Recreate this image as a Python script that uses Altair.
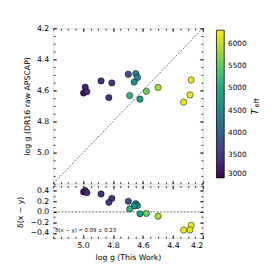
import altair as alt
import pandas as pd

# ---- data ----
logg_this = [4.997, 4.986, 4.975, 4.880, 4.808, 4.828, 4.698, 4.648, 4.637, 4.659,
             4.689, 4.620, 4.577, 4.499, 4.278, 4.286, 4.328]
logg_dr16 = [4.617, 4.579, 4.608, 4.539, 4.552, 4.646, 4.496, 4.492, 4.517, 4.546,
             4.633, 4.656, 4.606, 4.581, 4.533, 4.629, 4.675]
teff = [3100, 3250, 3350, 3450, 3500, 3500, 3850, 4450, 4500, 4600,
        5200, 4850, 5550, 5850, 6250, 6200, 6200]

diag_vals = [4.2, 5.2]
zero_line = [0.0]
annot = ["δ(x − y) = 0.09 ± 0.23"]
cbar_title = ["T", "eff"]

x_major = [5.0, 4.8, 4.6, 4.4, 4.2]
x_minor = [5.2, 5.15, 5.1, 5.05, 5.0, 4.95, 4.9, 4.85, 4.8, 4.75, 4.7, 4.65, 4.6,
           4.55, 4.5, 4.45, 4.4, 4.35, 4.3, 4.25, 4.2]
y_major = [4.2, 4.4, 4.6, 4.8, 5.0]
y_minor = x_minor
d_major = [0.4, 0.2, 0.0, -0.2, -0.4]
d_minor = [0.5, 0.4, 0.3, 0.2, 0.1, 0.0, -0.1, -0.2, -0.3, -0.4, -0.5]
cbar_ticks = [3000, 3500, 4000, 4500, 5000, 5500, 6000]

W, H1, H2 = 154, 160, 54
FONT = "DejaVu Sans"

df = pd.DataFrame({"this": logg_this, "dr16": logg_dr16, "teff": teff})
diag_df = pd.DataFrame({"a": diag_vals, "b": diag_vals})
zero_df = pd.DataFrame({"z": zero_line})
annot_df = pd.DataFrame({"t": annot})
T_df = pd.DataFrame({"t": cbar_title[:1]})
eff_df = pd.DataFrame({"t": cbar_title[1:]})

xscale = alt.Scale(domain=[4.2, 5.2], reverse=True, nice=False, zero=False)
yscale = alt.Scale(domain=[4.2, 5.2], reverse=True, nice=False, zero=False)
dscale = alt.Scale(domain=[-0.5, 0.5], nice=False, zero=False)
cscale = alt.Scale(domain=[3000, 6300], scheme="viridis")


def inward(orient, values, size, labels=False, title=None, fmt=".1f"):
    kw = dict(orient=orient, values=values, tickSize=size, offset=-size,
              domain=False, grid=False, labels=labels, tickColor="black",
              tickWidth=0.8, title=title)
    if labels:
        kw.update(format=fmt, labelFontSize=8, labelFont=FONT,
                  labelPadding=4.5 if orient == "left" else 4,
                  labelColor="black")
    if title:
        kw.update(titleFontSize=8, titleFont=FONT, titleFontWeight="normal",
                  titleColor="black",
                  titlePadding=5.5 if orient == "left" else 4)
    return alt.Axis(**kw)


def axis_layers(data, xf, yf, ys, ymaj, ymin, show_xlabels, ytitle, xtitle):
    layers = []
    specs = [
        (inward("bottom", x_major, 3.5, show_xlabels, xtitle),
         inward("left", ymaj, 3.5, True, ytitle)),
        (inward("top", x_major, 3.5), inward("right", ymaj, 3.5)),
        (inward("bottom", x_minor, 2), inward("left", ymin, 2)),
        (inward("top", x_minor, 2), inward("right", ymin, 2)),
    ]
    for xa, ya in specs:
        layers.append(
            alt.Chart(data).mark_point(opacity=0).encode(
                x=alt.X(xf, type="quantitative", scale=xscale, axis=xa),
                y=alt.Y(yf, type="quantitative", scale=ys, axis=ya),
            )
        )
    return layers


legend = alt.Legend(
    orient="none", legendX=W + 14, legendY=2, title=None,
    gradientLength=152, gradientThickness=8, values=cbar_ticks, format="d",
    labelFontSize=7.5, labelFont=FONT, labelColor="black", labelOverlap=False,
    gradientStrokeColor="black", gradientStrokeWidth=0.8, direction="vertical",
    labelOffset=4, padding=0,
)

pts_main = alt.Chart(df).mark_circle(size=42, stroke="black", strokeWidth=0.5, opacity=1).encode(
    x=alt.X("this:Q", scale=xscale, axis=None),
    y=alt.Y("dr16:Q", scale=yscale, axis=None),
    color=alt.Color("teff:Q", scale=cscale, legend=legend),
)
diag = alt.Chart(diag_df).mark_line(color="black", strokeWidth=0.6, strokeDash=[2, 1.5], clip=True).encode(
    x=alt.X("a:Q", scale=xscale, axis=None),
    y=alt.Y("b:Q", scale=yscale, axis=None),
)
t_text = alt.Chart(T_df).mark_text(angle=270, fontSize=9.5, fontStyle="italic", font=FONT,
                                   align="center", baseline="middle").encode(
    x=alt.value(W + 54), y=alt.value(86), text="t:N")
eff_text = alt.Chart(eff_df).mark_text(angle=270, fontSize=7, font=FONT,
                                       align="center", baseline="middle").encode(
    x=alt.value(W + 56), y=alt.value(77), text="t:N")

main = alt.layer(
    *axis_layers(df, "this", "dr16", yscale, y_major, y_minor, False,
                 "log g (DR16 raw APSCAP)", None),
    diag, pts_main, t_text, eff_text,
).resolve_axis(x="independent", y="independent").properties(width=W, height=H1)

pts_low = alt.Chart(df).transform_calculate(diff="datum.this - datum.dr16").mark_circle(
    size=42, stroke="black", strokeWidth=0.5, opacity=1).encode(
    x=alt.X("this:Q", scale=xscale, axis=None),
    y=alt.Y("diff:Q", scale=dscale, axis=None),
    color=alt.Color("teff:Q", scale=cscale, legend=legend),
)
zero = alt.Chart(zero_df).mark_rule(color="black", strokeWidth=0.6, strokeDash=[2, 1.5]).encode(
    y=alt.Y("z:Q", scale=dscale, axis=None))
ann = alt.Chart(annot_df).mark_text(align="left", baseline="middle", fontSize=5.5, font=FONT,
                                    color="black").encode(
    x=alt.value(2), y=alt.value(46), text="t:N")

low_axes_df = df.assign(diff=df["this"] - df["dr16"])
low = alt.layer(
    *axis_layers(low_axes_df, "this", "diff", dscale, d_major, d_minor, True,
                 "δ(x − y)", "log g (This Work)"),
    zero, pts_low, ann,
).resolve_axis(x="independent", y="independent").properties(width=W, height=H2)

chart = alt.vconcat(main, low, spacing=0).configure_view(
    stroke="black", strokeWidth=1
).configure(font=FONT, padding={"left": 8.5, "top": 12, "right": 5, "bottom": 5})

chart.save("out.html", embed_options={"renderer": "svg", "actions": False})
